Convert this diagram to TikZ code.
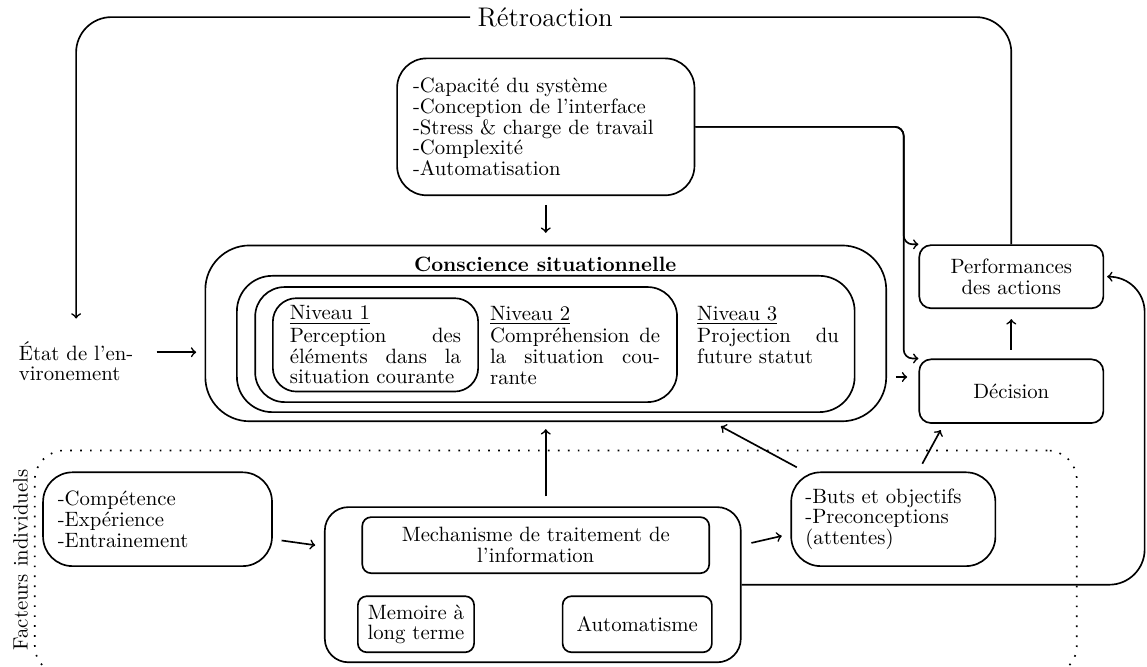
\documentclass[tikz,border=0pt]{standalone}
\usepackage{fontspec}
\usetikzlibrary{calc}
\linespread{0.83}

\begin{document}
\begin{tikzpicture}[
		boite/.style={draw, thick, rounded corners=0.5cm, align=left},
		petit/.style={draw, thick, rounded corners=0.2cm, align=center},
		cadre/.style={draw, thick},
		niveau/.style={anchor=north west, inner sep=0pt, align=justify},
		fleche/.style={thick, ->},
	]
	\useasboundingbox (0,0) rectangle (19.44,11.29);
	% facteurs du systeme et conscience situationnelle
	\node[boite, text width=4.5cm, inner xsep=0.27cm, minimum height=2.32cm] (sys) at (9.25,9.14) {-Capacité du système\\-Conception de l'interface\\-Stress \& charge de travail\\-Complexité\\-Automatisation};
	\node[cadre, rounded corners=0.75cm, minimum width=11.54cm, minimum height=2.98cm] (cs) at (9.25,5.64) {};
	\node[font=\bfseries] (titre) at (9.24,6.81) {Conscience situationnelle};
	\node[cadre, rounded corners=0.6cm, minimum width=10.47cm, minimum height=2.31cm] (cadre2) at (9.25,5.46) {};
	\node[cadre, rounded corners=0.5cm, minimum width=7.15cm, minimum height=1.95cm] (cadre1) at (7.9,5.45) {};
	\node[cadre, rounded corners=0.4cm, anchor=north west, text width=2.9cm, inner xsep=0.29cm, inner ysep=3.6pt, align=justify] (niv1) at (4.61,6.25) {\underline{Niveau 1}\\[1pt]Perception des\linebreak éléments dans la\linebreak situation courante};
	\node[niveau, text width=2.88cm] (niv2) at (8.3,6.11) {\underline{Niveau 2}\\[1pt]Compréhension de\linebreak la situation cou-\linebreak rante};
	\node[niveau, text width=2.4cm] (niv3) at (11.81,6.11) {\underline{Niveau 3}\\[1pt]Projection du\linebreak future statut};
	% decision et actions
	\node[petit, minimum width=3.12cm, minimum height=1.07cm] (perf) at (17.14,6.6) {Performances\\des actions};
	\node[petit, minimum width=3.12cm, minimum height=1.08cm] (dec) at (17.14,4.66) {Décision};
	\node[font=\fontsize{13}{15}\selectfont] (retro) at (9.24,11) {Rétroaction};
	\node[align=left] (etat) at (1.29,5.17) {État de l'en-\\vironement};
	% facteurs individuels
	\node[draw, thick, loosely dotted, rounded corners=0.5cm, minimum width=17.66cm, minimum height=3.81cm] (indiv) at (9.42,1.75) {};
	\node[rotate=90] (facteurs) at (0.35,1.8) {Facteurs individuels};
	\node[boite, text width=3.38cm, inner xsep=0.25cm, minimum height=1.59cm] (comp) at (2.67,2.49) {-Compétence\\-Expérience\\-Entrainement};
	\node[boite, rounded corners=0.4cm, minimum width=7.05cm, minimum height=2.63cm] (mech) at (9.03,1.38) {};
	\node[petit, rounded corners=0.15cm, minimum width=5.88cm, minimum height=0.95cm] (mtrait) at (9.08,2.05) {Mechanisme de traitement de\\l'information};
	\node[petit, rounded corners=0.15cm, minimum width=1.97cm, minimum height=0.95cm] (mem) at (7.05,0.71) {Memoire à\\long terme};
	\node[petit, rounded corners=0.15cm, minimum width=2.53cm, minimum height=0.95cm] (auto) at (10.8,0.71) {Automatisme};
	\node[boite, text width=2.98cm, inner xsep=0.24cm, minimum height=1.59cm] (buts) at (15.14,2.49) {-Buts et objectifs\\-Preconceptions\\(attentes)};
	\coordinate (droite) at (19.4,0);

	% fleches
	\draw[thick, rounded corners=0.6cm] (perf.north) |- (retro.east);
	\draw[fleche, rounded corners=0.6cm, shorten >=0.26cm] (retro.west) -| (etat.north);
	\draw[fleche, shorten <=0.15cm, shorten >=0.2cm] (sys) -- (cs);
	\draw[fleche, rounded corners=0.15cm] (sys.east) -| ([xshift=-0.25cm]perf.north west) -- (perf.north west);
	\draw[fleche, rounded corners=0.15cm] (sys.east) -| ([xshift=-0.25cm]dec.north west) -- (dec.north west);
	\draw[fleche, shorten <=0.27cm, shorten >=0.14cm] ([yshift=0.15cm]etat.east) -- ([yshift=0.15cm]etat.east -| cs.west);
	\draw[fleche, shorten <=0.15cm, shorten >=0.19cm] ([yshift=0.24cm]dec.west -| cs.east) -- ([yshift=0.24cm]dec.west);
	\draw[fleche, shorten <=0.15cm, shorten >=0.17cm] (dec) -- (perf);
	\draw[fleche, rounded corners=0.6cm, shorten >=0.05cm] (mech.east) -| (droite |- perf.east) -- (perf.east);
	\draw[fleche, shorten <=0.17cm, shorten >=0.12cm] (cs.south |- mech.north) -- (cs.south);
	\draw[fleche, shorten <=0.15cm, shorten >=0.15cm] ([yshift=-0.34cm]comp.east) -- ([yshift=-0.68cm]mech.north west);
	\draw[fleche, shorten <=0.17cm, shorten >=0.15cm] (mech.east |- mtrait.east) -- ([yshift=-0.25cm]buts.west);
	\draw[fleche, shorten <=0.15cm, shorten >=0.15cm] ([xshift=0.24cm]buts.north west) -- ($(cs.south)!0.49!(cs.south east)$);
	\draw[fleche, shorten <=0.15cm, shorten >=0.12cm] ([xshift=0.42cm]buts.north) -- ([xshift=-1.14cm]dec.south);
\end{tikzpicture}
\end{document}
